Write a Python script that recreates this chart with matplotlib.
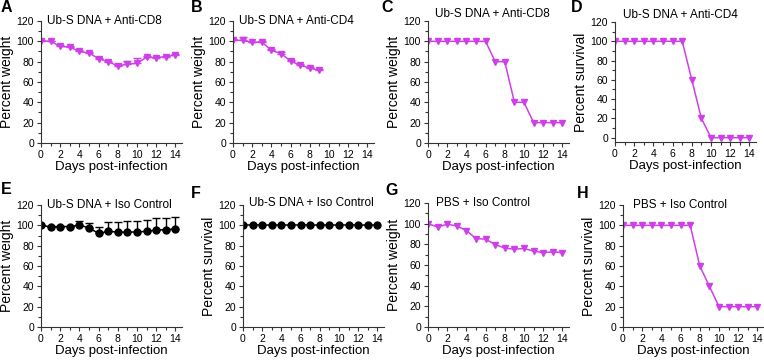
import numpy as np
import matplotlib
matplotlib.use('Agg')
import matplotlib.pyplot as plt
from matplotlib.ticker import MultipleLocator

plt.rcParams['font.family'] = ['Liberation Sans', 'DejaVu Sans']

days = list(range(15))

# percent weight / survival
a_weight = [100.5, 100, 95, 94.4, 90, 88.5, 83, 80, 76, 77.5, 78.5, 84.3, 84, 85, 86.5]
a_err = [0.8, 0.8, 1, 1, 1, 1, 1, 1, 1, 3.3, 5.5, 1, 1, 1, 1]
b_weight = [101, 101, 99, 99.3, 91, 88, 80.6, 76.4, 73.8, 71.5]
b_err = [1, 3.2, 0.8, 0.8, 1, 1.2, 1, 1, 1, 1]
c_weight = [100, 100, 100, 100, 100, 100, 100, 80, 80, 40, 40, 20, 20, 20, 20]
d_surv = [100, 100, 100, 100, 100, 100, 100, 100, 60, 20, 0, 0, 0, 0, 0]
e_weight = [100, 98.5, 98.8, 98.8, 100.2, 97.5, 92, 94, 93.5, 93.2, 93.6, 94, 95.5, 95.7, 96.5]
e_err = [0.5, 0.5, 0.5, 0.5, 4.5, 5, 6, 9, 10, 11, 11, 11, 11.5, 11.5, 11.5]
f_surv = [100] * 15
g_weight = [100, 96.8, 99.4, 97.8, 93.3, 85.6, 85, 79.8, 76.3, 75.3, 76, 73.4, 72, 72.7, 72]
h_surv = [100, 100, 100, 100, 100, 100, 100, 100, 60, 40, 20, 20, 20, 20, 20]

MAG = '#cf3fe8'
W, H = 764, 360

# letter, title, y, err, color, marker, ylabel, left px, axis-bottom px, top px, ymin, letter pos, title pos
panels = [
    ('A', 'Ub-S DNA + Anti-CD8', a_weight, a_err, MAG, 'v', 'Percent weight', 41, 143, 21, 0, (1, 12), (0.04, 1.0)),
    ('B', 'Ub-S DNA + Anti-CD4', b_weight, b_err, MAG, 'v', 'Percent weight', 233, 143, 21, 0, (191, 12), (0.04, 1.0)),
    ('C', 'Ub-S DNA + Anti-CD8', c_weight, None, MAG, 'v', 'Percent weight', 428, 143, 21, 0, (381, 12), (0.05, 1.06)),
    ('D', 'Ub-S DNA + Anti-CD4', d_surv, None, MAG, 'v', 'Percent survival', 615, 142, 22, -4.5, (571, 12), (0.06, 1.06)),
    ('E', 'Ub-S DNA + Iso Control', e_weight, e_err, 'black', 'o', 'Percent weight', 41, 327, 205, 0, (1, 194), (0.04, 1.0)),
    ('F', 'Ub-S DNA + Iso Control', f_surv, None, 'black', 'o', 'Percent survival', 243, 327, 205, 0, (191, 198), (0.04, 1.02)),
    ('G', 'PBS + Iso Control', g_weight, None, MAG, 'v', 'Percent weight', 428, 327, 203, 0, (385, 195), (0.06, 1.0)),
    ('H', 'PBS + Iso Control', h_surv, None, MAG, 'v', 'Percent survival', 623, 327, 205, 0, (577, 198), (0.07, 1.0)),
]

fig = plt.figure(figsize=(W / 100, H / 100), dpi=100)

for letter, title, y, err, col, mk, ylab, left, y0, ytop, ymin, lpos, tpos in panels:
    width_px = 9.6 * 14.7
    ax = fig.add_axes([left / W, 1 - y0 / H, width_px / W, (y0 - ytop) / H])
    x = days[:len(y)]
    ms = 4.5 if mk == 'v' else 5
    if err is not None:
        ax.errorbar(x, y, yerr=[np.zeros(len(err)), err], color=col, marker=mk, ms=ms,
                    lw=1.1, elinewidth=1.0, capsize=3, capthick=1.0)
    else:
        ax.plot(x, y, color=col, marker=mk, ms=ms, lw=1.1)
    ax.set_xlim(0, 14.7)
    ax.set_ylim(ymin, 120)
    ax.xaxis.set_major_locator(MultipleLocator(2))
    ax.xaxis.set_minor_locator(MultipleLocator(1))
    ax.yaxis.set_major_locator(MultipleLocator(20))
    ax.yaxis.set_minor_locator(MultipleLocator(10))
    ax.tick_params(which='both', direction='out', labelsize=7.5, width=0.8, color='#333333')
    ax.tick_params(which='major', length=3)
    ax.tick_params(which='minor', length=2)
    ax.tick_params(axis='y', pad=2)
    ax.tick_params(axis='x', pad=2)
    for s in ['top', 'right']:
        ax.spines[s].set_visible(False)
    for s in ['left', 'bottom']:
        ax.spines[s].set_linewidth(0.8)
        ax.spines[s].set_color('#333333')
    ax.set_xlabel('Days post-infection', fontsize=9.5, labelpad=1)
    ax.set_ylabel(ylab, fontsize=10, labelpad=2)
    ax.text(tpos[0], tpos[1], title, transform=ax.transAxes, fontsize=8.5, va='center', ha='left')
    ax.patch.set_alpha(0)
    fig.text(lpos[0] / W, 1 - lpos[1] / H, letter, fontsize=11.5, fontweight='bold', ha='left', va='baseline')

fig.savefig('out.png', dpi=100)
